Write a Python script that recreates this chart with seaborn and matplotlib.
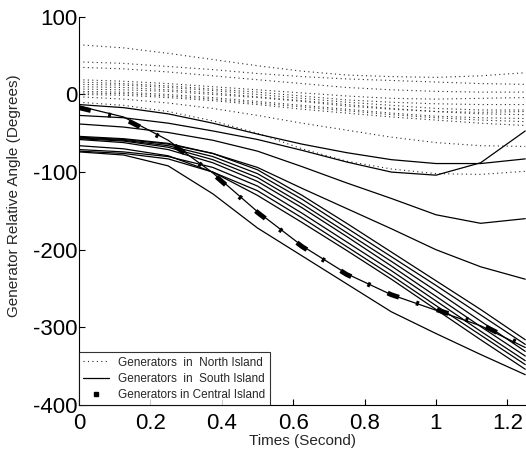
import matplotlib
matplotlib.use("Agg")
import matplotlib.pyplot as plt
from matplotlib.lines import Line2D
from matplotlib.ticker import FormatStrFormatter
import pandas as pd
import seaborn as sns

# time grid (s)
times = [0, 0.125, 0.25, 0.375, 0.5, 0.625, 0.75, 0.875, 1.0, 1.125, 1.25]

# North Island generators (dotted)
north_1 = [64, 60, 53, 45, 37, 30, 25, 23, 22, 24, 28]
north_2 = [42, 40, 36, 32, 27, 23, 20, 18, 16, 14, 13]
north_3 = [35, 33, 29, 24, 19, 14, 9, 6, 4, 3, 3]
north_4 = [19, 17, 14, 10, 6, 2, -2, -5, -6, -5, -4]
north_5 = [16, 14, 11, 7, 3, -2, -7, -10, -12, -13, -13]
north_6 = [13, 12, 9, 5, 0, -5, -10, -14, -18, -20, -20]
north_7 = [10, 9, 6, 2, -3, -8, -13, -18, -22, -25, -26]
north_8 = [7, 6, 4, 0, -4, -9, -15, -19, -22, -23, -22]
north_9 = [4, 3, 0, -4, -9, -14, -19, -24, -28, -30, -31]
north_10 = [2, 1, -2, -6, -11, -16, -21, -26, -30, -33, -35]
north_11 = [0, -1, -4, -8, -13, -19, -24, -29, -33, -37, -40]
north_12 = [-3, -6, -11, -18, -27, -37, -46, -55, -62, -66, -67]
north_13 = [-10, -14, -22, -34, -50, -70, -86, -96, -102, -103, -99]

# South Island generators (solid)
south_1 = [-13, -17, -25, -37, -51, -64, -75, -84, -89, -89, -83]
south_2 = [-27, -30, -37, -47, -58, -72, -87, -100, -104, -88, -47]
south_3 = [-38, -42, -49, -59, -73, -93, -114, -134, -155, -166, -160]
south_4 = [-54, -57, -63, -76, -94, -121, -147, -173, -200, -222, -238]
south_5 = [-55, -58, -64, -76, -97, -130, -166, -203, -240, -277, -316]
south_6 = [-56, -59, -66, -80, -102, -135, -172, -209, -246, -284, -322]
south_7 = [-57, -60, -68, -84, -107, -141, -178, -215, -253, -292, -331]
south_8 = [-58, -62, -71, -88, -112, -146, -183, -221, -260, -299, -337]
south_9 = [-71, -74, -80, -94, -118, -153, -190, -227, -266, -305, -343]
south_10 = [-73, -76, -83, -100, -124, -159, -196, -233, -272, -310, -348]
south_11 = [-66, -70, -79, -100, -130, -165, -201, -238, -277, -316, -354]
south_12 = [-15, -29, -59, -101, -151, -195, -231, -258, -278, -298, -326]
south_13 = [-74, -78, -92, -128, -172, -208, -244, -280, -308, -335, -361]

# Central Island generator (thick dash-dot)
central_1 = [-17, -31, -60, -102, -152, -196, -232, -258, -277, -296, -325]

north = [north_1, north_2, north_3, north_4, north_5, north_6, north_7,
         north_8, north_9, north_10, north_11, north_12, north_13]
south = [south_1, south_2, south_3, south_4, south_5, south_6, south_7,
         south_8, south_9, south_10, south_11, south_12, south_13]
central = [central_1]

rows = []
for island, group in [("North", north), ("South", south), ("Central", central)]:
    for k, vals in enumerate(group):
        for t, v in zip(times, vals):
            rows.append({"time": t, "angle": v, "gen": island + str(k), "island": island})
df = pd.DataFrame(rows)

sns.set_style("ticks")
plt.rcParams["font.family"] = ["Liberation Sans", "DejaVu Sans"]
plt.rcParams["axes.unicode_minus"] = False

fig = plt.figure(figsize=(5.26, 4.55), dpi=100)
ax = fig.add_axes([0.150, 0.110, 0.852, 0.853])

sns.lineplot(data=df[df.island == "North"], x="time", y="angle", units="gen",
             estimator=None, color="0.15", lw=0.8, dashes=(1, 3), ax=ax)
sns.lineplot(data=df[df.island == "South"], x="time", y="angle", units="gen",
             estimator=None, color="black", lw=0.9, ax=ax)
sns.lineplot(data=df[df.island == "Central"], x="time", y="angle", units="gen",
             estimator=None, color="black", lw=3.5, dashes=(2.5, 3.7, 0.6, 3.9),
             dash_capstyle="butt", ax=ax)

ax.set_xlim(0, 1.255)
ax.set_ylim(-400, 100)
ax.set_xticks([0, 0.2, 0.4, 0.6, 0.8, 1.0, 1.2])
ax.set_yticks([-400, -300, -200, -100, 0, 100])
ax.xaxis.set_major_formatter(FormatStrFormatter("%g"))
ax.tick_params(direction="in", length=4, width=0.8, labelsize=16, colors="black")
ax.tick_params(axis="y", pad=1)
ax.tick_params(axis="x", pad=6)
sns.despine(ax=ax)
for s in ["left", "bottom"]:
    ax.spines[s].set_linewidth(0.8)
    ax.spines[s].set_color("black")

ax.set_xlabel("Times (Second)", fontsize=11, labelpad=0)
ax.set_ylabel("Generator Relative Angle (Degrees)", fontsize=11, labelpad=1)
ax.yaxis.set_label_coords(-0.13, 0.54)

handles = [
    Line2D([], [], color="0.15", lw=0.8, ls=(0, (1, 3))),
    Line2D([], [], color="black", lw=0.9),
    Line2D([], [], color="black", ls="none", marker="s", ms=3),
]
labels = ["Generators  in  North Island", "Generators  in  South Island",
          "Generators in Central Island"]
leg = ax.legend(handles, labels, loc="lower left", fontsize=8.5, frameon=True,
                fancybox=False, edgecolor="black", borderaxespad=0,
                handlelength=2.2, handletextpad=0.8, labelspacing=0.35,
                borderpad=0.35, numpoints=1)
leg.get_frame().set_linewidth(0.8)

fig.savefig("out.png", dpi=100)
